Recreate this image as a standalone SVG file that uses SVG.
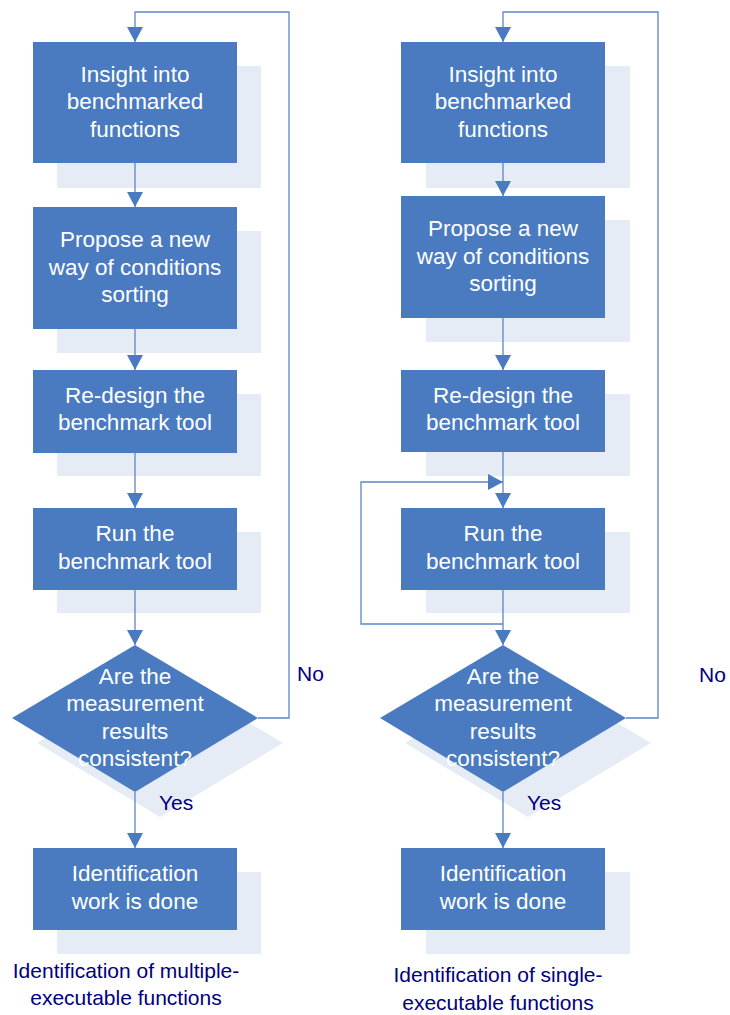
<svg xmlns="http://www.w3.org/2000/svg" width="730" height="1015" viewBox="0 0 730 1015">
<style>
.sh{fill:#e6ecf6}
.bx{fill:#4a7bc0}
.t{font-family:"Liberation Sans",Arial,sans-serif;font-size:22.5px;fill:#ffffff;text-anchor:middle}
.lb{font-family:"Liberation Sans",Arial,sans-serif;font-size:21px;fill:#000080}
.c{fill:none;stroke:#5b86c7;stroke-width:1.3}
</style>
<defs>
<marker id="ar" markerWidth="16" markerHeight="16" refX="15" refY="8" orient="auto" markerUnits="userSpaceOnUse">
<path d="M0,0 L15,8 L0,16 Z" fill="#4a7bc0"/>
</marker>
</defs>
<rect width="730" height="1015" fill="#ffffff"/>
<g id="L1"><rect class="sh" x="57" y="66" width="204" height="122"/><rect class="bx" x="33" y="42" width="204" height="121"/>
<text class="t" x="135" y="82">Insight into</text><text class="t" x="135" y="109">benchmarked</text><text class="t" x="135" y="137">functions</text></g>
<g id="L2"><rect class="sh" x="57" y="231" width="204" height="122"/><rect class="bx" x="33" y="207" width="204" height="122"/>
<text class="t" x="135" y="247">Propose a new</text><text class="t" x="135" y="275">way of conditions</text><text class="t" x="135" y="302">sorting</text></g>
<g id="L3"><rect class="sh" x="57" y="394" width="204" height="82"/><rect class="bx" x="33" y="370" width="204" height="83"/>
<text class="t" x="135" y="403">Re-design the</text><text class="t" x="135" y="430">benchmark tool</text></g>
<g id="L4"><rect class="sh" x="57" y="532" width="204" height="81"/><rect class="bx" x="33" y="508" width="204" height="82"/>
<text class="t" x="135" y="541">Run the</text><text class="t" x="135" y="569">benchmark tool</text></g>
<g id="L5"><polygon class="sh" points="160,670 283,743 160,817 37,743"/><polygon class="bx" points="135,645 258,718 135,792 12,718"/>
<text class="t" x="135" y="684">Are the</text><text class="t" x="135" y="711">measurement</text><text class="t" x="135" y="739">results</text><text class="t" x="135" y="766">consistent?</text></g>
<g id="L6"><rect class="sh" x="57" y="872" width="204" height="82"/><rect class="bx" x="33" y="848" width="204" height="82"/>
<text class="t" x="135" y="881">Identification</text><text class="t" x="135" y="909">work is done</text></g>
<g id="R1"><rect class="sh" x="426" y="66" width="204" height="122"/><rect class="bx" x="401" y="42" width="204" height="121"/>
<text class="t" x="503" y="82">Insight into</text><text class="t" x="503" y="109">benchmarked</text><text class="t" x="503" y="137">functions</text></g>
<g id="R2"><rect class="sh" x="426" y="220" width="204" height="122"/><rect class="bx" x="401" y="196" width="204" height="122"/>
<text class="t" x="503" y="236">Propose a new</text><text class="t" x="503" y="264">way of conditions</text><text class="t" x="503" y="291">sorting</text></g>
<g id="R3"><rect class="sh" x="426" y="394" width="204" height="82"/><rect class="bx" x="401" y="370" width="204" height="82"/>
<text class="t" x="503" y="403">Re-design the</text><text class="t" x="503" y="430">benchmark tool</text></g>
<g id="R4"><rect class="sh" x="426" y="532" width="204" height="81"/><rect class="bx" x="401" y="508" width="204" height="82"/>
<text class="t" x="503" y="541">Run the</text><text class="t" x="503" y="569">benchmark tool</text></g>
<g id="R5"><polygon class="sh" points="528,670 651,743 528,817 405,743"/><polygon class="bx" points="503,645 626,718 503,792 380,718"/>
<text class="t" x="503" y="684">Are the</text><text class="t" x="503" y="711">measurement</text><text class="t" x="503" y="739">results</text><text class="t" x="503" y="766">consistent?</text></g>
<g id="R6"><rect class="sh" x="426" y="872" width="204" height="82"/><rect class="bx" x="401" y="848" width="204" height="82"/>
<text class="t" x="503" y="881">Identification</text><text class="t" x="503" y="909">work is done</text></g>
<g id="connectors">
<path class="c" d="M135,163 V207" marker-end="url(#ar)"/>
<path class="c" d="M135,329 V370" marker-end="url(#ar)"/>
<path class="c" d="M135,453 V508" marker-end="url(#ar)"/>
<path class="c" d="M135,590 V645" marker-end="url(#ar)"/>
<path class="c" d="M135,792 V848" marker-end="url(#ar)"/>
<path class="c" d="M258,718 H289 V12 H135 V42" marker-end="url(#ar)"/>
<path class="c" d="M503,163 V196" marker-end="url(#ar)"/>
<path class="c" d="M503,318 V370" marker-end="url(#ar)"/>
<path class="c" d="M503,452 V508" marker-end="url(#ar)"/>
<path class="c" d="M503,590 V645" marker-end="url(#ar)"/>
<path class="c" d="M503,624 H361 V482 H503" marker-end="url(#ar)"/>
<path class="c" d="M503,792 V848" marker-end="url(#ar)"/>
<path class="c" d="M626,718 H658 V12 H503 V42" marker-end="url(#ar)"/>
</g>
<g id="labels">
<text class="lb" x="297" y="681">No</text>
<text class="lb" x="699" y="682">No</text>
<text class="lb" x="159" y="810">Yes</text>
<text class="lb" x="527" y="810">Yes</text>
<text class="lb" x="126" y="978" text-anchor="middle">Identification of multiple-</text>
<text class="lb" x="126" y="1005" text-anchor="middle">executable functions</text>
<text class="lb" x="498" y="982" text-anchor="middle">Identification of single-</text>
<text class="lb" x="498" y="1010" text-anchor="middle">executable functions</text>
</g>
</svg>
